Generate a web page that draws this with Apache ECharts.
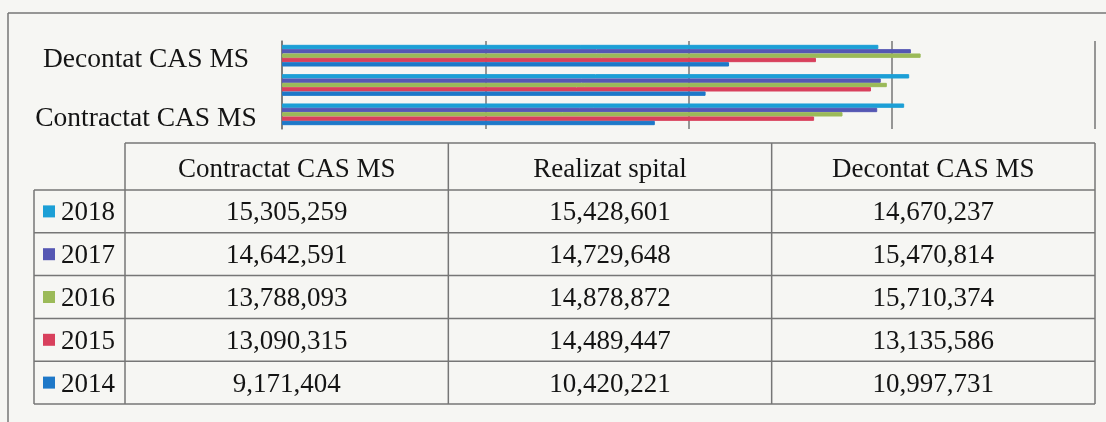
<!DOCTYPE html>
<html>
<head>
<meta charset="utf-8">
<script src="https://cdn.jsdelivr.net/npm/echarts@6/dist/echarts.min.js"></script>
<style>
  html, body { margin: 0; padding: 0; background: #f6f6f3; }
  #chart { width: 1106px; height: 422px; }
</style>
</head>
<body>
<div id="chart"></div>
<script>
// categorii (de jos in sus pe axa)
var categories = ["Contractat CAS MS", "Realizat spital", "Decontat CAS MS"];
var years = ["2018", "2017", "2016", "2015", "2014"];
var v2018 = [15305259, 15428601, 14670237];
var v2017 = [14642591, 14729648, 15470814];
var v2016 = [13788093, 14878872, 15710374];
var v2015 = [13090315, 14489447, 13135586];
var v2014 = [9171404, 10420221, 10997731];
var valueTicks = [0, 5000000, 10000000, 15000000, 20000000];

var values = { "2018": v2018, "2017": v2017, "2016": v2016, "2015": v2015, "2014": v2014 };
var colors = { "2018": "#1c9fd6", "2017": "#5557b3", "2016": "#9bba58", "2015": "#d8405c", "2014": "#1e78c8" };

var font = "Liberation Serif, Times New Roman, serif";
var lineColor = "#767676";
var textColor = "#141414";

// tabel de date sub grafic
var tbl = {
  keyLeft: 34, left: 125, right: 1095,
  headTop: 143, rowTop: 190, rowH: 42.8
};
var colW = (tbl.right - tbl.left) / categories.length;

function fmt(n) { return n.toLocaleString("en-US"); }

var graphic = [];
function hline(x1, x2, y) {
  graphic.push({ type: "line", silent: true, shape: { x1: x1, y1: y, x2: x2, y2: y }, style: { stroke: lineColor, lineWidth: 1.5 } });
}
function vline(x, y1, y2) {
  graphic.push({ type: "line", silent: true, shape: { x1: x, y1: y1, x2: x, y2: y2 }, style: { stroke: lineColor, lineWidth: 1.5 } });
}
function text(t, x, y, align) {
  graphic.push({ type: "text", silent: true, style: { text: t, x: x, y: y, textAlign: align, textVerticalAlign: "middle", fontSize: 27, fontFamily: font, fill: textColor } });
}

// chenarul graficului
hline(8, 1106, 13);
vline(8, 13, 422);

var tblBottom = tbl.rowTop + tbl.rowH * years.length;
hline(tbl.left, tbl.right, tbl.headTop);
for (var r = 0; r <= years.length; r++) {
  hline(tbl.keyLeft, tbl.right, tbl.rowTop + tbl.rowH * r);
}
vline(tbl.keyLeft, tbl.rowTop, tblBottom);
for (var c = 0; c <= categories.length; c++) {
  vline(tbl.left + colW * c, tbl.headTop, tblBottom);
}
categories.forEach(function (cat, c) {
  text(cat, tbl.left + colW * (c + 0.5), (tbl.headTop + tbl.rowTop) / 2 + 3, "center");
});
years.forEach(function (y, r) {
  var cy = tbl.rowTop + tbl.rowH * (r + 0.5) + 2;
  graphic.push({ type: "rect", silent: true, shape: { x: 43, y: cy - 8, width: 12, height: 12 }, style: { fill: colors[y] } });
  text(y, 61, cy, "left");
  values[y].forEach(function (v, c) {
    text(fmt(v), tbl.left + colW * (c + 0.5), cy, "center");
  });
});

// seria 2018 sus in fiecare grup, 2014 jos
var series = years.map(function (y) {
  return {
    name: y,
    type: "bar",
    data: values[y],
    itemStyle: { color: colors[y], borderColor: colors[y], borderWidth: 1 },
    barGap: "0%",
    barCategoryGap: "26%"
  };
});

var chart = echarts.init(document.getElementById("chart"));
chart.setOption({
  backgroundColor: "#f6f6f3",
  animation: false,
  grid: { left: 282, right: 11, top: 41, height: 88, containLabel: false },
  xAxis: {
    type: "value",
    min: valueTicks[0],
    max: valueTicks[valueTicks.length - 1],
    interval: valueTicks[1] - valueTicks[0],
    axisLabel: { show: false },
    axisLine: { show: false },
    axisTick: { show: false },
    splitLine: { show: true, lineStyle: { color: lineColor, width: 1.5 } }
  },
  yAxis: {
    type: "category",
    data: categories,
    axisTick: { show: false },
    axisLine: { show: true, lineStyle: { color: lineColor, width: 1.5 } },
    axisLabel: {
      interval: 1, margin: 136, align: "center",
      formatter: "{t|{value}}",
      rich: { t: { fontSize: 27.5, fontFamily: font, color: textColor, padding: [8, 0, 0, 0] } }
    }
  },
  series: series,
  graphic: graphic
});
</script>
</body>
</html>
